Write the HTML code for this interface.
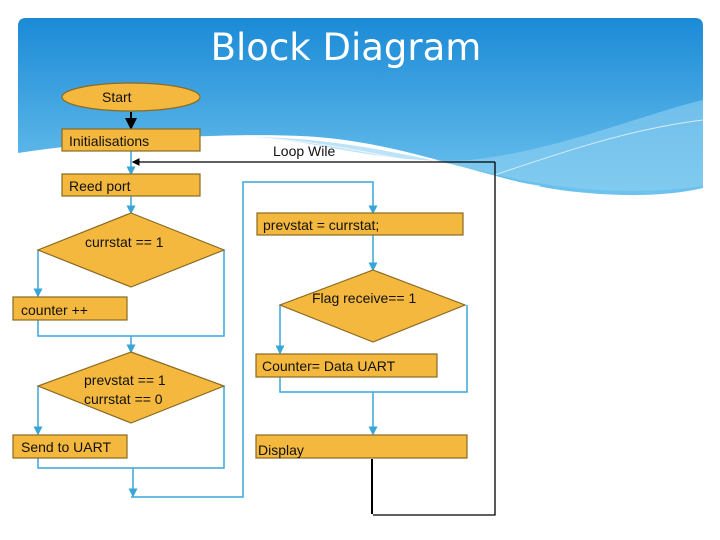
<!DOCTYPE html>
<html><head><meta charset="utf-8"><style>
html,body{margin:0;padding:0;background:#fff;}
svg{display:block;}
text{font-family:"Liberation Sans",sans-serif;font-size:14px;fill:#111;}
</style></head><body>
<svg width="720" height="540" viewBox="0 0 720 540">
<defs>
<linearGradient id="g" x1="0" y1="0" x2="0" y2="1">
<stop offset="0" stop-color="#1b8ad6"/><stop offset="1" stop-color="#6ec3ee"/>
</linearGradient>
<marker id="ab" markerWidth="6" markerHeight="6" refX="5" refY="3" orient="auto"><path d="M0,0L6,3L0,6z" fill="#3aa6d8"/></marker>
<marker id="ak" markerWidth="6" markerHeight="6" refX="5" refY="3" orient="auto"><path d="M0,0L6,3L0,6z" fill="#000"/></marker>
</defs>
<path d="M26,18 H695 Q703,18 703,26 V188 C670,196 620,198 560,190 C480,178 400,140 300,136 C230,133 120,138 18,153 V26 Q18,18 26,18Z" fill="url(#g)"/>
<path d="M250,137 C350,138 430,160 520,180 C600,195 660,192 703,186 V100 C640,115 560,150 470,160 C380,165 320,140 250,137Z" fill="#8fd0f2" opacity="0.6"/>
<path d="M230,136 C350,140 430,170 540,186" stroke="#fff" stroke-width="1" fill="none" opacity="0.7"/>
<path d="M450,190 C540,160 620,130 703,120" stroke="#fff" stroke-width="1" fill="none" opacity="0.7"/>
<text x="346" y="60" text-anchor="middle" style="font-size:37px;fill:#fff;font-family:'DejaVu Sans','Liberation Sans',sans-serif">Block Diagram</text>

<g fill="none" stroke="#3aa6d8" stroke-width="1.5">
<line x1="131" y1="150" x2="131" y2="174" marker-end="url(#ab)"/>
<line x1="131" y1="196" x2="131" y2="213" marker-end="url(#ab)"/>
<polyline points="38,250 38,296" marker-end="url(#ab)"/>
<polyline points="38,320 38,336 224,336 224,250"/>
<line x1="131" y1="336" x2="131" y2="352" marker-end="url(#ab)"/>
<polyline points="38,386 38,434" marker-end="url(#ab)"/>
<polyline points="38,458 38,468 224,468 224,386"/>
<line x1="133" y1="468" x2="133" y2="496" marker-end="url(#ab)"/>
<polyline points="131,497 243,497 243,182 373,182 373,213" marker-end="url(#ab)"/>
<line x1="373" y1="235" x2="373" y2="270" marker-end="url(#ab)"/>
<polyline points="280,305 280,353" marker-end="url(#ab)"/>
<polyline points="280,377 280,392 467,392 467,305"/>
<line x1="373" y1="392" x2="373" y2="434" marker-end="url(#ab)"/>
</g>
<g fill="none" stroke="#000" stroke-width="1.3">
<line x1="131" y1="112" x2="131" y2="128" stroke-width="2" marker-end="url(#ak)"/>
<polyline points="495,162 495,515 373,515"/>
<line x1="495" y1="162" x2="133" y2="162" marker-end="url(#ak)"/>
<line x1="372" y1="459" x2="372" y2="514" stroke-width="2"/>
</g>
<g fill="#f4b83e" stroke="#8a6a22" stroke-width="1.2">
<ellipse cx="131" cy="97" rx="69" ry="14"/>
<rect x="62" y="129" width="138" height="22"/>
<rect x="62" y="174" width="138" height="22"/>
<polygon points="131,213 224,250 131,287 38,250"/>
<rect x="13" y="297" width="114" height="23"/>
<polygon points="131,352 224,386 131,423 38,386"/>
<rect x="13" y="435" width="114" height="23"/>
<rect x="257" y="213" width="206" height="22"/>
<polygon points="373,270 465,305 373,342 280,305"/>
<rect x="256" y="354" width="181" height="23"/>
<rect x="256" y="435" width="211" height="23"/>
</g>
<text x="102" y="102">Start</text>
<text x="69" y="146">Initialisations</text>
<text x="69" y="191">Reed port</text>
<text x="273" y="156">Loop Wile</text>
<text x="85" y="247">currstat == 1</text>
<text x="21" y="315">counter ++</text>
<text x="84" y="385">prevstat == 1</text>
<text x="84" y="404">currstat == 0</text>
<text x="21" y="452">Send to UART</text>
<text x="263" y="230">prevstat = currstat;</text>
<text x="312" y="303">Flag receive== 1</text>
<text x="262" y="371">Counter= Data UART</text>
<text x="258" y="455">Display</text>
</svg>
</body></html>
